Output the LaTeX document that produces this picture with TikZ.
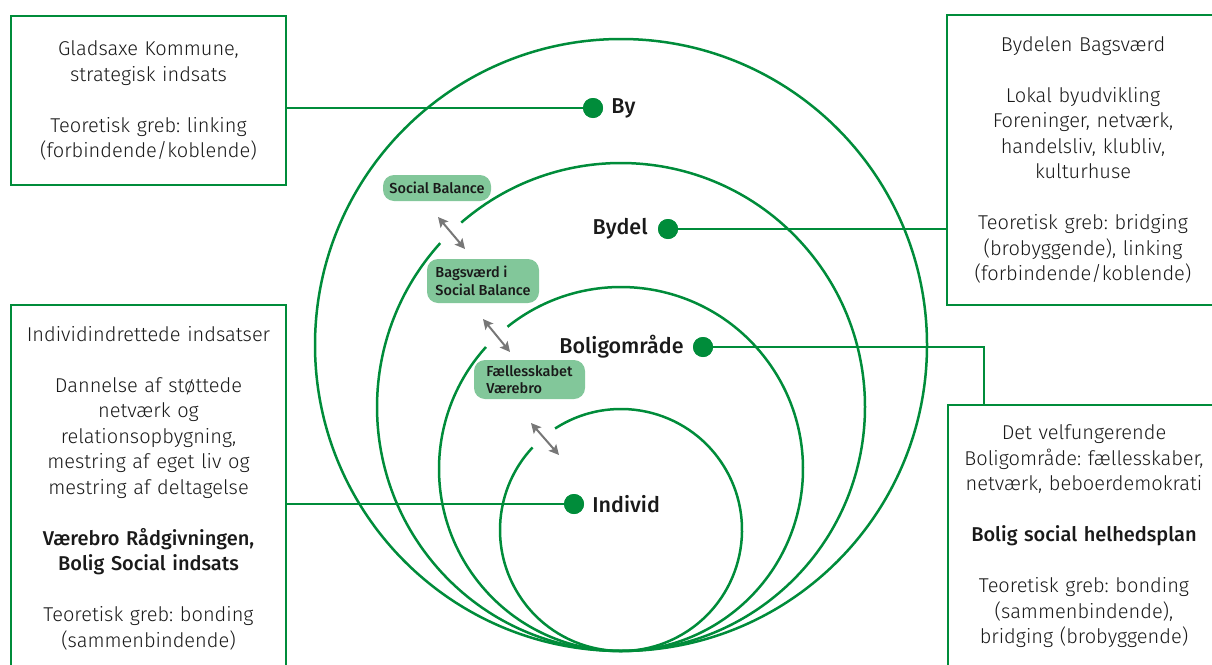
\documentclass[tikz,border=0pt]{standalone}
\usepackage{fontspec}
\setmainfont{Fira Sans}[UprightFont=* Light, BoldFont=* Medium]
\usetikzlibrary{arrows.meta}
\definecolor{lgreen}{HTML}{008C3A}
\definecolor{pillfill}{HTML}{82C79A}
\definecolor{arrowgray}{HTML}{777777}
\definecolor{ink}{HTML}{1A1A1A}
\frenchspacing
\begin{document}
\begin{tikzpicture}[x=1pt,y=-1pt,
  ring/.style={draw=lgreen, line width=2.5pt},
  conn/.style={draw=lgreen, line width=2.3pt},
  infobox/.style={draw=lgreen, line width=2.6pt, fill=white, align=center,
    font=\fontsize{20}{25.5}\selectfont, text=ink, inner sep=0pt},
  dot/.style={circle, fill=lgreen, minimum size=20pt, inner sep=0pt},
  lab/.style={font=\bfseries\fontsize{21.5}{24}\selectfont, text=ink, inner sep=0pt},
  pill/.style={fill=pillfill, rounded corners=11pt, align=left, inner sep=0pt,
    font=\bfseries\fontsize{14.5}{17.5}\selectfont, text=ink},
  biarrow/.style={draw=arrowgray, line width=2pt,
    {Stealth[length=10pt,width=10pt,inset=2pt]}-{Stealth[length=10pt,width=10pt,inset=2pt]}}
]
\useasboundingbox (0,0) rectangle (1212,664);
\clip (0,0) rectangle (1212,664);

% nested rings, all touching at the bottom
\draw[ring] (621,345) circle[radius=306];
\draw[ring] ([shift={(229.1:244)}]621,407) arc[start angle=229.1, end angle=582.2, radius=244];
\draw[ring] ([shift={(231.4:182)}]621,469) arc[start angle=231.4, end angle=582.1, radius=182];
\draw[ring] ([shift={(237:121)}]621,530) arc[start angle=237, end angle=583, radius=121];

% level markers
\node[dot] (bydot) at (593,108) {};
\node[dot] (bydeldot) at (668,229) {};
\node[dot] (bodot) at (703,347) {};
\node[dot] (inddot) at (574,504) {};

\node[lab, anchor=west] (bylab) at ([xshift=8pt]bydot.east) {By};
\node[lab, anchor=east] (bydellab) at ([xshift=-10pt]bydeldot.west) {Bydel};
\node[lab, anchor=east] (bolab) at ([xshift=-9pt]bodot.west) {Boligområde};
\node[lab, anchor=west] (indlab) at ([xshift=8pt]inddot.east) {Individ};

% description boxes
\node[infobox, minimum width=275pt, minimum height=169pt, text width=270pt] (gk) at (148.5,100.5)
  {Gladsaxe Kommune,\\ strategisk indsats\\[25.5pt]
   Teoretisk greb: linking\\ (forbindende/koblende)};
\node[infobox, minimum width=272pt, minimum height=290pt, text width=268pt] (bb) at (1083,160)
  {Bydelen Bagsværd\\[25.5pt]
   Lokal byudvikling\\ Foreninger, netværk,\\ handelsliv, klubliv,\\ kulturhuse\\[25.5pt]
   Teoretisk greb: bridging\\ (brobyggende), linking\\ (forbindende/koblende)};
\node[infobox, minimum width=272pt, minimum height=263pt, text width=268pt] (bo) at (1084,536.5)
  {Det velfungerende\\ Boligområde: fællesskaber,\\ netværk, beboerdemokrati\\[25.5pt]
   \textbf{Bolig social helhedsplan}\\[25.5pt]
   Teoretisk greb: bonding\\ (sammenbindende),\\ bridging (brobyggende)};
\node[infobox, minimum width=275pt, minimum height=366pt, text width=270pt] (ii) at (148.5,488)
  {Individindrettede indsatser\\[25.5pt]
   Dannelse af støttede\\ netværk og\\ relationsopbygning,\\ mestring af eget liv og\\ mestring af deltagelse\\[25.5pt]
   \textbf{Værebro Rådgivningen,}\\ \textbf{Bolig Social indsats}\\[25.5pt]
   Teoretisk greb: bonding\\ (sammenbindende)};

% connectors from boxes to markers
\draw[conn] (bydot -| gk.east) -- (bydot);
\draw[conn] (bydeldot) -- (bydeldot -| bb.west);
\draw[conn] (bodot) -| ([xshift=37pt]bo.north west);
\draw[conn] (inddot -| ii.east) -- (inddot);
\node[dot] at (bydot) {};
\node[dot] at (bydeldot) {};
\node[dot] at (bodot) {};
\node[dot] at (inddot) {};

% initiatives between the rings
\node[pill, minimum width=108pt, minimum height=26pt] (sb) at (437,188) {Social Balance};
\node[pill, minimum width=112pt, minimum height=44pt] (bsb) at (483,281) {Bagsværd i\\ Social Balance};
\node[pill, minimum width=111pt, minimum height=39pt] (fv) at (529.5,379.5) {Fællesskabet\\ Værebro};

\coordinate (a1s) at (438,217); \coordinate (a1e) at (465,249);
\coordinate (a2s) at (483,319); \coordinate (a2e) at (510,352);
\coordinate (a3s) at (531,423); \coordinate (a3e) at (559,455);
\draw[biarrow] (a1s) -- (a1e);
\draw[biarrow] (a2s) -- (a2e);
\draw[biarrow] (a3s) -- (a3e);
\end{tikzpicture}
\end{document}
